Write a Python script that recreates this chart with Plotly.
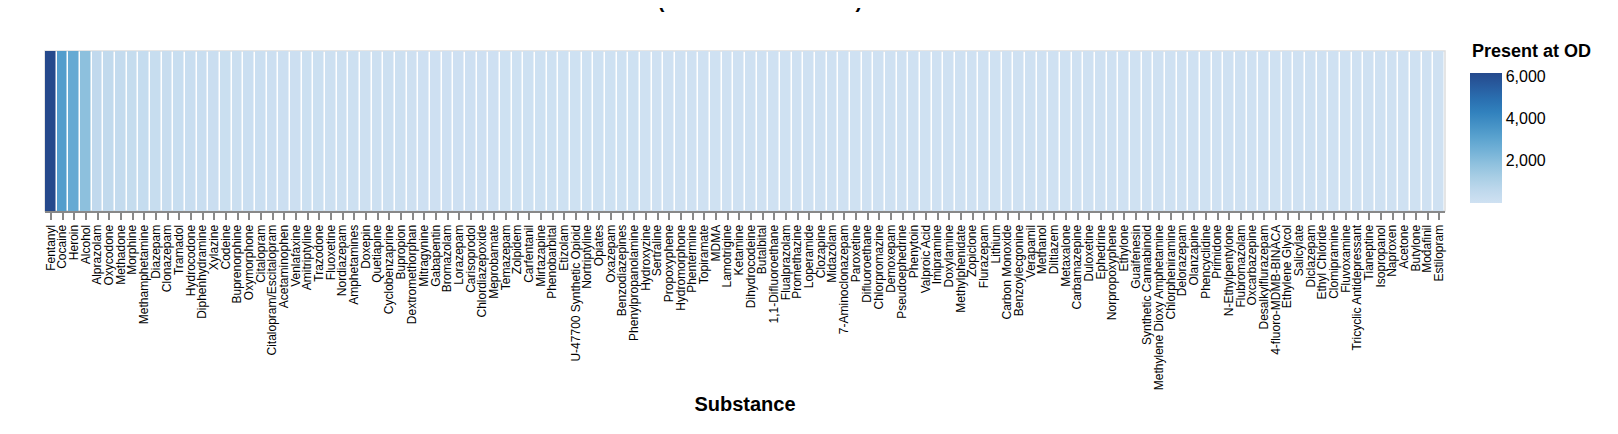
import plotly.graph_objects as go

# substances sorted by number of overdoses they were present at
substances = [
    "Fentanyl", "Cocaine", "Heroin", "Alcohol", "Alprazolam", "Oxycodone", "Methadone", "Morphine",
    "Methamphetamine", "Diazepam", "Clonazepam", "Tramadol", "Hydrocodone", "Diphenhydramine",
    "Xylazine", "Codeine", "Buprenorphine", "Oxymorphone", "Citalopram", "Citalopram/Escitalopram",
    "Acetaminophen", "Venlafaxine", "Amitriptyline", "Trazodone", "Fluoxetine", "Nordiazepam",
    "Amphetamines", "Doxepin", "Quetiapine", "Cyclobenzaprine", "Bupropion", "Dextromethorphan",
    "Mitragynine", "Gabapentin", "Bromazolam", "Lorazepam", "Carisoprodol", "Chlordiazepoxide",
    "Meprobamate", "Temazepam", "Zolpidem", "Carfentanil", "Mirtazapine", "Phenobarbital",
    "Etizolam", "U-47700 Synthetic Opioid", "Nortriptyline", "Opiates", "Oxazepam",
    "Benzodiazepines", "Phenylpropanolamine", "Hydroxyzine", "Sertraline", "Propoxyphene",
    "Hydromorphone", "Phentermine", "Topiramate", "MDMA", "Lamotrigine", "Ketamine",
    "Dihydrocodeine", "Butalbital", "1,1-Difluoroethane", "Flualprazolam", "Promethazine",
    "Loperamide", "Clozapine", "Midazolam", "7-Aminoclonazepam", "Paroxetine", "Difluoroethane",
    "Chlorpromazine", "Demoxepam", "Pseudoephedrine", "Phenytoin", "Valproic Acid", "Imipramine",
    "Doxylamine", "Methylphenidate", "Zopiclone", "Flurazepam", "Lithium", "Carbon Monoxide",
    "Benzoylecgonine", "Verapamil", "Methanol", "Diltiazem", "Metaxalone", "Carbamazepine",
    "Duloxetine", "Ephedrine", "Norpropoxyphene", "Ethylone", "Guaifenesin",
    "Synthetic Cannabinoid", "Methylene Dioxy Amphetamine", "Chlorpheniramine", "Delorazepam",
    "Olanzapine", "Phencyclidine", "Primidone", "N-Ethylpentylone", "Flubromazolam",
    "Oxcarbazepine", "Desalkylflurazepam", "4-fluoro-MDMB-BINACA", "Ethylene Glycol", "Salicylate",
    "Diclazepam", "Ethyl Chloride", "Clomipramine", "Fluvoxamine", "Tricyclic Antidepressant",
    "Tianeptine", "Isopropanol", "Naproxen", "Acetone", "Butylone", "Modafinil", "Estilopram",
]

present_at_od = [
    6150, 3300, 2800, 1900, 520, 480, 400, 370, 350, 300,
    270, 240, 220, 200, 185, 170, 155, 140, 130, 120,
    112, 105, 98, 92, 86, 80, 75, 70, 66, 62,
    58, 55, 52, 49, 46, 43, 40, 38, 36, 34,
    32, 30, 28, 27, 26, 25, 24, 23, 22, 21,
    20, 19, 18, 17, 16, 15, 15, 14, 14, 13,
    13, 12, 12, 11, 11, 10, 10, 9, 9, 9,
    8, 8, 8, 7, 7, 7, 6, 6, 6, 6,
    5, 5, 5, 5, 4, 4, 4, 4, 4, 3,
    3, 3, 3, 3, 3, 2, 2, 2, 2, 2,
    2, 2, 2, 2, 1, 1, 1, 1, 1, 1,
    1, 1, 1, 1, 1, 1, 1, 1, 1, 1,
]

legend_ticks = [2000, 4000, 6000]

# vega "blues" style ramp, darkest end matched to the picture
blues = ["#cfe1f2", "#bed8ec", "#a8cee5", "#8fc1de", "#74b2d7", "#5ba3cf",
         "#4592c6", "#3181bd", "#2a6fb0", "#285c9f", "#25498c"]
colorscale = [[i / (len(blues) - 1), c] for i, c in enumerate(blues)]

FONT = "Liberation Sans, Arial, Helvetica, sans-serif"

fig = go.Figure(go.Heatmap(
    x=substances,
    y=["Present at OD"],
    z=[present_at_od],
    zmin=min(present_at_od),
    zmax=max(present_at_od),
    colorscale=colorscale,
    xgap=1.5,
    colorbar=dict(
        tickvals=legend_ticks,
        tickformat=",",
        tickfont=dict(family=FONT, size=16, color="black"),
        ticks="",
        outlinewidth=0,
        thickness=32,
        thicknessmode="pixels",
        lenmode="pixels",
        len=130,
        x=1.018, xanchor="left", xpad=0,
        y=0.8625, yanchor="top", ypad=0,
    ),
))

fig.update_layout(
    width=1618, height=434,
    margin=dict(l=37, r=181, t=43, b=231),
    paper_bgcolor="white",
    plot_bgcolor="white",
    font=dict(family=FONT, color="black"),
    xaxis=dict(
        type="category",
        tickmode="array", tickvals=substances,
        tickangle=-90,
        tickfont=dict(family=FONT, size=12, color="black"),
        ticks="outside", ticklen=7, tickwidth=1.5, tickcolor="#888",
        showline=True, linecolor="#888", linewidth=2,
        showgrid=False, zeroline=False,
        title=dict(text="<b>Substance</b>", font=dict(family=FONT, size=20, color="black"),
                   standoff=8),
    ),
    yaxis=dict(visible=False, showgrid=False),
    shapes=[dict(type="rect", xref="paper", yref="paper", x0=0, x1=1, y0=0, y1=1,
                 line=dict(color="#ddd", width=1.5), layer="below")],
    annotations=[
        dict(text="<b>ODs (Substances Present)</b>", xref="paper", yref="paper",
             x=0.494, y=1.232, yanchor="bottom", showarrow=False,
             font=dict(family=FONT, size=20, color="black")),
        dict(text="<b>Present at OD</b>", xref="paper", yref="paper",
             x=1.018, xanchor="left", y=1.0, yanchor="middle", showarrow=False,
             font=dict(family=FONT, size=18, color="black")),
    ],
)

fig.write_html("out.html")
